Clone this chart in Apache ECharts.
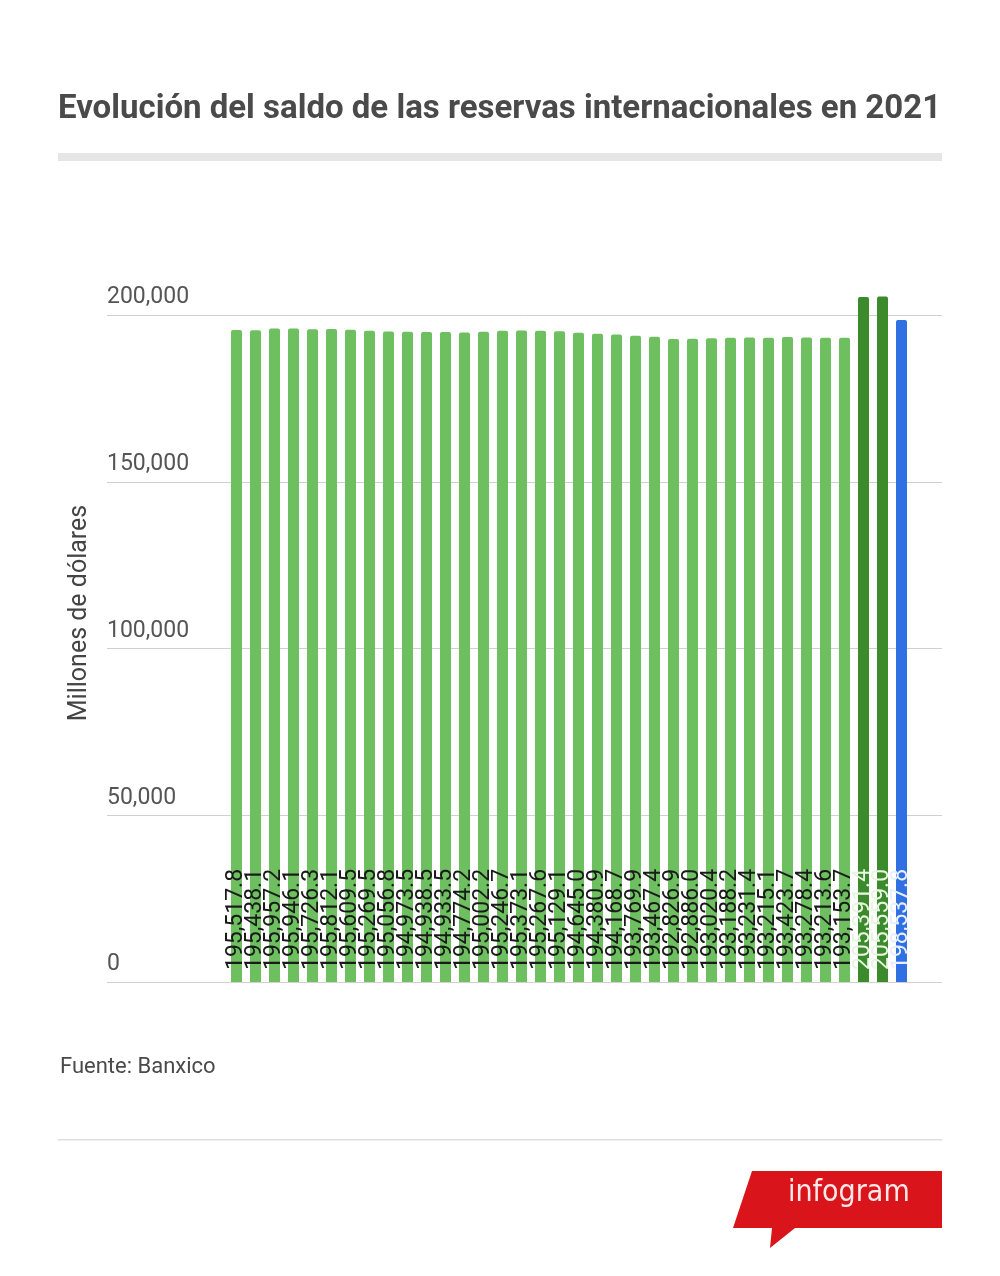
<!DOCTYPE html>
<html>
<head>
<meta charset="utf-8">
<script src="https://cdn.jsdelivr.net/npm/echarts@6/dist/echarts.min.js"></script>
<style>
html,body{margin:0;padding:0;background:#fff;}
#c{width:1000px;height:1276px;}
</style>
</head>
<body>
<div id="c"></div>
<script>
const titleText = 'Evolución del saldo de las reservas internacionales en 2021';
const sourceText = 'Fuente: Banxico';
const axisName = 'Millones de dólares';
const categories = ['1','2','3','4','5','6','7','8','9','10','11','12','13','14','15','16','17','18','19','20','21','22','23','24','25','26','27','28','29','30','31','32','33','34','35','36'];
const values = [195517.8,195438.1,195957.2,195946.1,195726.3,195812.1,195609.5,195269.5,195056.8,194973.5,194938.5,194933.5,194774.2,195002.2,195246.7,195373.1,195267.6,195129.1,194645.0,194380.9,194168.7,193769.9,193467.4,192826.9,192886.0,193020.4,193188.2,193231.4,193215.1,193423.7,193278.4,193213.6,193153.7,205391.4,205559.0,198537.8];
const barGroup = ['a','a','a','a','a','a','a','a','a','a','a','a','a','a','a','a','a','a','a','a','a','a','a','a','a','a','a','a','a','a','a','a','a','b','b','c'];
const yTicks = [0, 50000, 100000, 150000, 200000];

const groupColor = {a:'#6dbf5f', b:'#3b8a2c', c:'#3070e3'};
const groupLabel = {a:'#1a1a1a', b:'#e8f5e0', c:'#e8f0ff'};
const fmt = new Intl.NumberFormat('en-US',{minimumFractionDigits:1,maximumFractionDigits:1});
const fmt0 = new Intl.NumberFormat('en-US');

const chart = echarts.init(document.getElementById('c'), null, {renderer:'canvas'});
const barData = values.map((v,i)=>({
  value:v,
  itemStyle:{color:groupColor[barGroup[i]], borderRadius:[2,2,0,0]},
  label:{color:groupLabel[barGroup[i]]}
}));

chart.setOption({
  animation:false,
  backgroundColor:'#fff',
  textStyle:{fontFamily:'Roboto'},
  title:[
    {text:titleText, left:53, top:88, textStyle:{fontFamily:'Roboto', fontWeight:'bold', fontSize:33, color:'#4a4a4a'}},
    {text:sourceText, left:55, top:1051, textStyle:{fontFamily:'Roboto', fontWeight:'normal', fontSize:22, color:'#4a4a4a'}}
  ],
  grid:[
    {left:107, right:58, top:315, bottom:294},
    {left:227, right:89, top:315, bottom:294}
  ],
  xAxis:[
    {gridIndex:0, type:'value', show:false},
    {gridIndex:1, type:'category', data:categories, show:false, boundaryGap:true}
  ],
  yAxis:[
    {gridIndex:0, type:'value', min:yTicks[0], max:yTicks[yTicks.length-1], interval:yTicks[1]-yTicks[0],
     axisLine:{show:false}, axisTick:{show:false},
     splitLine:{show:true, lineStyle:{color:'#d0d0d0', width:1}},
     axisLabel:{inside:true, margin:0, verticalAlign:'bottom', align:'left', padding:[0,0,6,0],
       fontFamily:'Roboto', fontSize:23, color:'#555', formatter:v=>fmt0.format(v)}
    },
    {gridIndex:1, type:'value', min:yTicks[0], max:yTicks[yTicks.length-1], show:false}
  ],
  series:[{
    type:'bar', xAxisIndex:1, yAxisIndex:1, data:barData, barWidth:11, clip:false,
    label:{show:true, position:'insideBottom', rotate:90, align:'left', verticalAlign:'middle',
      distance:12, fontFamily:'Roboto', fontSize:23, formatter:p=>fmt.format(p.value)}
  }],
  graphic:[
    {type:'rect', shape:{x:58, y:153, width:884, height:8}, style:{fill:'#e6e6e6'}},
    {type:'rect', shape:{x:58, y:1139, width:884, height:1.5}, style:{fill:'#dedede'}},
    {type:'text', x:80, y:613, rotation:Math.PI/2, style:{text:axisName, fill:'#444', font:'25px Roboto', align:'center', verticalAlign:'middle'}},
    {type:'polygon', shape:{points:[[752,1171],[942,1171],[942,1228],[795,1228],[770,1248],[772,1228],[733,1228]]}, style:{fill:'#d9141b'}},
    {type:'text', left:788, top:1178, style:{text:'infogram', fill:'#fbe9e9', font:'500 30px "DejaVu Sans Condensed", "Roboto"'}}
  ]
});
</script>
</body>
</html>
